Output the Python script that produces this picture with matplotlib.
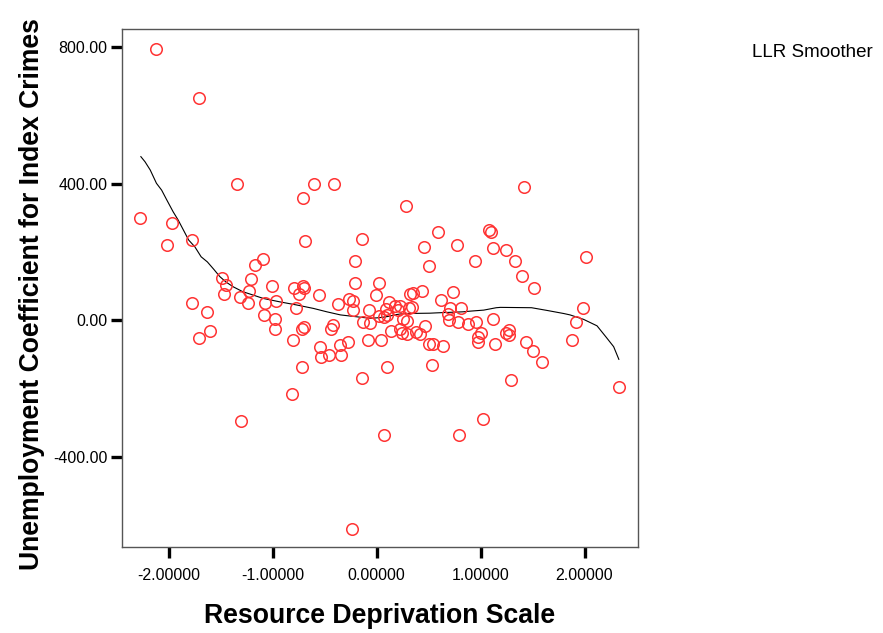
import numpy as np
import matplotlib
matplotlib.use("Agg")
import matplotlib.pyplot as plt

plt.rcParams['font.family'] = ['Liberation Sans', 'DejaVu Sans']

# точки: индекс ресурсной депривации и коэффициент безработицы
dep_x = [-2.12, -1.714, -1.349, -0.604, -0.415, -0.710, -2.279, -1.968, -2.019, -1.782,
         -0.694, -0.140, -1.092, -1.175, -0.207, -1.208, -1.487, -0.207, 0.024, -1.006,
         -1.451, -1.471, -1.230, -1.317, -1.243, -1.073, -0.967, -0.797, -0.710, -0.701,
         -0.746, -0.553, -0.376, -0.778, -1.782, -1.637, -1.605, -1.711, -1.089, -0.983,
         -0.983, -0.720, -0.704, -0.444, -0.419, -0.809, -0.547, -0.534, -0.460, -0.350,
         -0.347, -0.274, -0.723, -0.265, -0.226, -0.226, -0.075, -0.008, 0.024, -0.130,
         -0.065, -0.088, 0.040, -0.140, -0.813, -1.310, -0.242, 0.066, 0.114, 0.085,
         0.178, 0.223, 0.207, 0.310, 0.336, 0.322, 0.346, 0.435, 0.066, 0.095,
         0.255, 0.294, 0.134, 0.220, 0.240, 0.294, 0.374, 0.416, 0.461, 0.500,
         0.541, 0.637, 0.618, 0.737, 0.705, 0.682, 0.695, 0.810, 0.778, 0.881,
         0.952, 1.000, 0.971, 0.971, 1.138, 0.101, 0.534, 0.586, 0.454, 0.775,
         0.502, 0.948, 1.083, 1.102, 1.121, 1.243, 1.330, 1.397, 1.516, 2.016,
         1.988, 1.917, 1.882, 1.118, 1.243, 1.276, 1.272, 1.433, 1.503, 1.590,
         1.292, 1.414, 0.278, 2.331, 1.022, 0.791]
unemp_y = [793, 650, 400, 400, 400, 359, 300, 284, 221, 236,
           233, 239, 180, 163, 174, 122, 123, 110, 110, 102,
           103, 78, 86, 69, 51, 52, 57, 94, 102, 94,
           78, 74, 49, 36, 52, 25, -30, -51, 16, 3,
           -25, -25, -20, -25, -15, -58, -77, -108, -101, -71,
           -101, -63, -136, 63, 57, 30, 31, 74, 13, -4,
           -9, -58, -58, -168, -215, -294, -610, -335, 54, 32,
           42, 42, 30, 35, 40, 77, 81, 85, 11, 16,
           5, -2, -30, -25, -36, -41, -35, -41, -16, -69,
           -69, -74, 59, 84, 36, 18, 1, 36, -4, -10,
           -4, -36, -50, -63, -68, -136, -130, 258, 215, 221,
           159, 174, 264, 258, 212, 207, 174, 130, 95, 186,
           37, -4, -57, 3, -36, -28, -43, -63, -89, -121,
           -175, 391, 335, -194, -288, -335]

# кривая LLR-сглаживания
llr_x = [-2.27, -2.23, -2.18, -2.12, -2.07, -2.02, -1.96, -1.91, -1.86, -1.81,
         -1.75, -1.69, -1.63, -1.57, -1.51, -1.45, -1.38, -1.29, -1.19, -1.09,
         -0.93, -0.77, -0.61, -0.48, -0.35, -0.18, -0.06, 0.03, 0.10, 0.19,
         0.26, 0.51, 0.58, 0.83, 0.90, 1.03, 1.15, 1.19, 1.49, 1.64,
         1.80, 1.86, 1.96, 1.99, 2.12, 2.21, 2.28, 2.33]
llr_y = [479, 464, 440, 401, 381, 352, 318, 293, 264, 235,
         215, 186, 171, 150, 128, 112, 98, 84, 74, 64,
         54, 45, 35, 25, 16, 10, 6, 8, 11, 17,
         20, 21, 22, 25, 27, 30, 37, 38, 37, 29,
         20, 16, 6, 3, -16, -50, -77, -114]

x_ticks = [-2, -1, 0, 1, 2]
x_tick_labels = ['-2.00000', '-1.00000', '0.00000', '1.00000', '2.00000']
y_ticks = [-400, 0, 400, 800]
y_tick_labels = ['-400.00', '0.00', '400.00', '800.00']

fig = plt.figure(figsize=(8.83, 6.33), dpi=100)
ax = fig.add_axes([0.1387, 0.1359, 0.5838, 0.8175])

ax.plot(dep_x, unemp_y, 'o', mfc='none', mec='#ff3333', ms=8.3, mew=1.1, zorder=3)
ax.plot(llr_x, llr_y, color='black', lw=0.8, zorder=2)

ax.set_xlim(-2.447, 2.514)
ax.set_ylim(-663, 851)
ax.set_xticks(x_ticks)
ax.set_xticklabels(x_tick_labels)
ax.set_yticks(y_ticks)
ax.set_yticklabels(y_tick_labels)
ax.tick_params(axis='both', direction='out', length=8, width=2.4, color='black',
               labelsize=11.5)
ax.tick_params(axis='x', pad=7)
ax.tick_params(axis='y', pad=3)

for sp in ax.spines.values():
    sp.set_color('#555555')
    sp.set_linewidth(1.0)

fig.text(380 / 883, 1 - 616 / 633, 'Resource Deprivation Scale', ha='center', va='center',
         fontsize=19.2, fontweight='bold')
fig.text(32 / 883, 1 - 294 / 633, 'Unemployment Coefficient for Index Crimes', ha='center',
         va='center', rotation=90, fontsize=19.1, fontweight='bold')
fig.text(752 / 883, 1 - 52.5 / 633, 'LLR Smoother', ha='left', va='center', fontsize=13.5)

fig.savefig('out.png', dpi=100)
